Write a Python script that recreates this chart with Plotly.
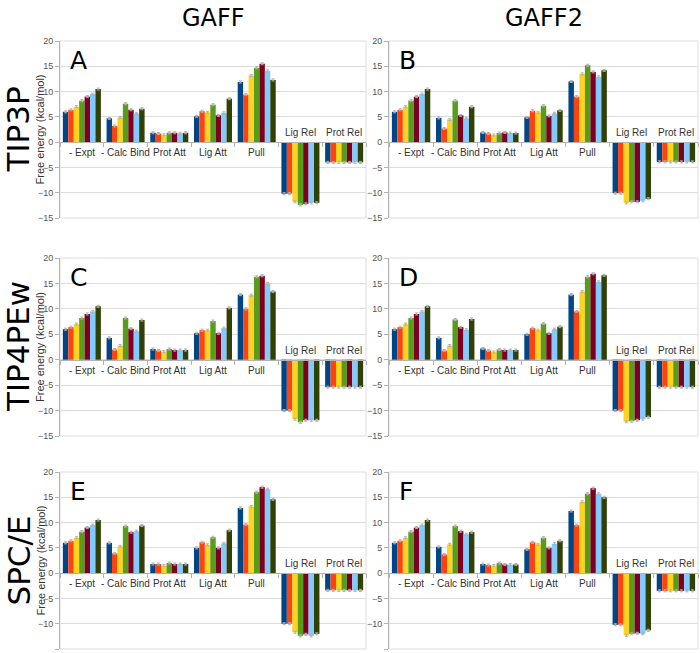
import plotly.graph_objects as go

categories = ["- Expt", "- Calc Bind", "Prot Att", "Lig Att", "Pull", "Lig Rel", "Prot Rel"]
series_colors = ["#004586", "#ff420e", "#ffd320", "#579d1c", "#7e0021", "#83caff", "#314004"]

# values per panel: each key -> values of the 7 series for that category
expt = [6.0, 6.4, 7.0, 8.2, 9.0, 9.5, 10.5]

panel_A = {
    "calc_bind": [4.7, 3.2, 4.9, 7.6, 6.4, 5.7, 6.6],
    "prot_att": [1.85, 1.7, 1.45, 1.85, 1.85, 1.75, 1.85],
    "lig_att": [5.1, 6.1, 5.9, 7.4, 5.3, 5.8, 8.6],
    "pull": [11.9, 9.4, 13.2, 14.7, 15.5, 14.1, 12.3],
    "lig_rel": [-10.2, -10.2, -11.8, -12.4, -12.2, -12.0, -12.0],
    "prot_rel": [-4.0, -4.0, -4.0, -4.0, -4.0, -4.0, -4.0],
}
panel_B = {
    "calc_bind": [4.8, 2.7, 4.5, 8.2, 5.3, 4.7, 7.0],
    "prot_att": [1.9, 1.7, 1.4, 1.8, 1.9, 1.8, 1.8],
    "lig_att": [4.9, 6.2, 5.9, 7.2, 5.2, 5.7, 6.3],
    "pull": [12.0, 9.0, 13.5, 15.2, 13.9, 12.9, 14.2],
    "lig_rel": [-10.1, -10.1, -12.0, -11.8, -11.8, -11.6, -11.2],
    "prot_rel": [-3.9, -3.9, -3.9, -3.9, -3.9, -3.9, -3.9],
}
panel_C = {
    "calc_bind": [4.3, 2.0, 2.8, 8.2, 6.1, 5.6, 7.8],
    "prot_att": [2.1, 1.8, 1.6, 2.1, 1.9, 1.9, 1.9],
    "lig_att": [5.2, 5.8, 5.8, 7.6, 5.2, 6.2, 10.2],
    "pull": [12.8, 10.0, 12.7, 16.3, 16.5, 15.0, 13.4],
    "lig_rel": [-10.0, -10.0, -11.7, -12.3, -11.9, -11.9, -11.9],
    "prot_rel": [-5.4, -5.4, -5.4, -5.4, -5.4, -5.4, -5.4],
}
panel_D = {
    "calc_bind": [4.3, 1.8, 2.8, 7.9, 6.4, 5.9, 8.0],
    "prot_att": [2.2, 1.8, 1.5, 2.0, 1.9, 1.9, 1.9],
    "lig_att": [5.0, 6.2, 5.8, 7.1, 5.2, 6.0, 6.5],
    "pull": [12.8, 9.5, 13.4, 16.3, 16.9, 15.3, 16.6],
    "lig_rel": [-10.0, -10.0, -12.2, -12.1, -11.9, -11.7, -11.3],
    "prot_rel": [-5.4, -5.4, -5.4, -5.4, -5.4, -5.4, -5.4],
}
panel_E = {
    "calc_bind": [6.0, 3.9, 5.3, 9.3, 8.1, 8.3, 9.4],
    "prot_att": [1.8, 1.8, 1.5, 2.0, 1.8, 1.8, 1.8],
    "lig_att": [5.0, 6.1, 5.6, 7.1, 5.0, 5.9, 8.5],
    "pull": [12.9, 9.6, 13.2, 16.0, 17.0, 16.6, 14.6],
    "lig_rel": [-10.0, -10.0, -11.7, -12.4, -12.1, -12.4, -12.0],
    "prot_rel": [-3.4, -3.4, -3.4, -3.4, -3.4, -3.4, -3.4],
}
panel_F = {
    "calc_bind": [5.2, 3.7, 5.7, 9.3, 8.3, 7.7, 8.1],
    "prot_att": [1.8, 1.6, 1.5, 2.0, 1.7, 1.7, 1.7],
    "lig_att": [4.7, 6.1, 5.7, 7.0, 5.0, 5.8, 6.4],
    "pull": [12.3, 9.5, 14.1, 15.7, 16.8, 15.7, 15.0],
    "lig_rel": [-10.2, -10.2, -12.3, -12.0, -11.9, -12.0, -11.3],
    "prot_rel": [-3.5, -3.5, -3.5, -3.5, -3.5, -3.5, -3.5],
}
error_size = 0.2

panels = [panel_A, panel_B, panel_C, panel_D, panel_E, panel_F]
panel_letters = ["A", "B", "C", "D", "E", "F"]
column_titles = ["GAFF", "GAFF2"]
row_titles = ["TIP3P", "TIP4PEw", "SPC/E"]
y_title = "Free energy (kcal/mol)"
y_range = [-15, 20]
y_ticks = [-15, -10, -5, 0, 5, 10, 15, 20]

W, H = 700, 653
col_px = [(60, 366), (389, 698)]
row_px = [(41, 218), (258, 436), (472, 649)]

fig = go.Figure()
keys = ["calc_bind", "prot_att", "lig_att", "pull", "lig_rel", "prot_rel"]

for p, panel in enumerate(panels):
    r, c = divmod(p, 2)
    idx = p + 1
    xa = "x" if idx == 1 else f"x{idx}"
    ya = "y" if idx == 1 else f"y{idx}"
    for s in range(7):
        vals = [expt[s]] + [panel[k][s] for k in keys]
        fig.add_trace(go.Bar(
            x=categories, y=vals, xaxis=xa, yaxis=ya,
            marker=dict(color=series_colors[s], line=dict(width=0)),
            error_y=dict(type="constant", value=error_size, color="#b0b0b0", thickness=1, width=1.5),
            showlegend=False, hoverinfo="skip",
        ))
    x0, x1 = col_px[c]
    ytop, ybot = row_px[r]
    xdom = [x0 / W, x1 / W]
    ydom = [1 - ybot / H, 1 - ytop / H]
    zero_pos = ydom[0] + (0 - y_range[0]) / (y_range[1] - y_range[0]) * (ydom[1] - ydom[0])
    fig.layout[f"xaxis{'' if idx == 1 else idx}"] = dict(
        domain=xdom, anchor="free", position=zero_pos, type="category",
        showline=True, linecolor="#b3b3b3", linewidth=1,
        ticks="outside", tickson="boundaries", ticklen=4, tickcolor="#b3b3b3",
        showticklabels=False, showgrid=False, fixedrange=True, automargin=False,
        range=[-0.5, 6.5],
    )
    fig.layout[f"yaxis{'' if idx == 1 else idx}"] = dict(
        domain=ydom, anchor=xa, range=y_range, tickvals=y_ticks,
        showline=True, linecolor="#b3b3b3", linewidth=1,
        ticks="outside", ticklen=4, tickcolor="#b3b3b3",
        tickfont=dict(family="Liberation Sans", size=9, color="#555555"),
        showgrid=True, gridcolor="#dddddd", gridwidth=1, zeroline=False,
        fixedrange=True, automargin=False,
    )
    # frame
    fig.add_shape(type="rect", xref=f"{xa} domain", yref=f"{ya} domain",
                  x0=0, x1=1, y0=0, y1=1, line=dict(color="#dddddd", width=1), layer="below")
    # category labels
    for i, cat in enumerate(categories):
        vals = [expt[0]] + [panel[k][0] for k in keys]
        neg = vals[i] < 0
        fig.add_annotation(
            x=cat, y=0, xref=xa, yref=ya, text=cat, showarrow=False,
            xanchor="center",
            yanchor="bottom" if neg else "top", yshift=2 if neg else -3,
            font=dict(family="Liberation Sans", size=10, color="#333333"),
        )
    # panel letter
    fig.add_annotation(x=0.025, y=0.985, xref=f"{xa} domain", yref=f"{ya} domain",
                       text=panel_letters[p], showarrow=False, xanchor="left", yanchor="top",
                       font=dict(family="DejaVu Sans", size=25, color="#000000"))
    if c == 0:
        fig.add_annotation(x=40 / W, y=(ydom[0] + ydom[1]) / 2, xref="paper", yref="paper",
                           text=y_title, textangle=-90, showarrow=False,
                           xanchor="center", yanchor="middle",
                           font=dict(family="Liberation Sans", size=11, color="#333333"))
        fig.add_annotation(x=18 / W, y=(ydom[0] + ydom[1]) / 2, xref="paper", yref="paper",
                           text=row_titles[r], textangle=-90, showarrow=False,
                           xanchor="center", yanchor="middle",
                           font=dict(family="DejaVu Sans", size=31, color="#000000"))

for c, t in enumerate(column_titles):
    x0, x1 = col_px[c]
    fig.add_annotation(x=(x0 + x1) / 2 / W, y=1 - 2 / H, xref="paper", yref="paper",
                       text=t, showarrow=False, xanchor="center", yanchor="top",
                       font=dict(family="DejaVu Sans", size=24, color="#000000"))

fig.update_layout(
    width=W, height=H, margin=dict(l=0, r=0, t=0, b=0, autoexpand=False),
    paper_bgcolor="white", plot_bgcolor="white",
    barmode="group", bargap=0.13, bargroupgap=0.0,
    showlegend=False,
)
fig.write_html("out.html", config={"displayModeBar": False},
               post_script="document.body.style.margin='0';")
